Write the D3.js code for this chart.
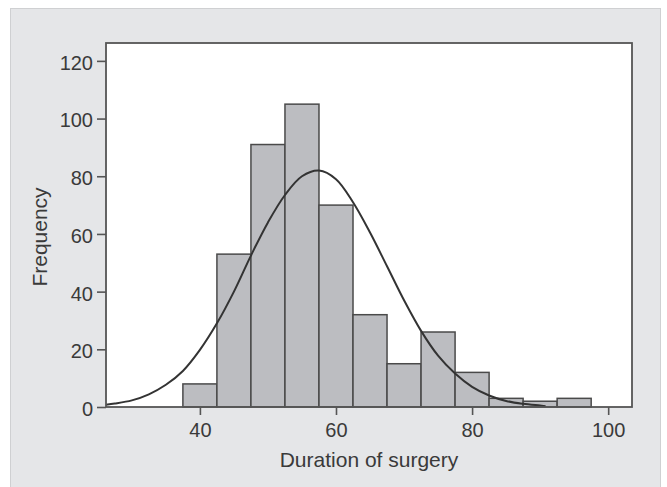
<!DOCTYPE html>
<html lang="en">
    <head>
        <meta charset="UTF-8" />
        <title>Duration of surgery</title>
        <script src="https://d3js.org/d3.v7.min.js"></script>
        <style>
            body {
                margin: 0;
                background: #ffffff;
            }
            .axis text {
                font-family: "Liberation Sans", Arial, sans-serif;
                font-size: 20px;
                fill: #3a3a3a;
            }
            .axis line {
                stroke: #555;
                stroke-width: 1.6px;
            }
            .axis-label {
                font-family: "Liberation Sans", Arial, sans-serif;
                font-size: 21px;
                fill: #3a3a3a;
            }
        </style>
    </head>
    <body>
        <svg id="chart" width="667" height="487"></svg>
        <script>
            // histogram bins (lower edge of each bin, width 5)
            const binStarts = [37.5, 42.5, 47.5, 52.5, 57.5, 62.5, 67.5, 72.5, 77.5, 82.5, 87.5, 92.5];
            const binWidth = 5;
            const counts = [8, 53, 91, 105, 70, 32, 15, 26, 12, 3, 2, 3];

            // fitted normal curve
            const curveX = [26.2, 27.5, 30, 32.5, 35, 37.5, 40, 42.5, 45, 47.5, 50, 52.5, 55, 57.5, 60, 62.5, 65, 67.5, 70, 72.5, 75, 77.5, 80, 82.5, 85, 87.5, 90, 90.8];
            const curveY = [0.8, 1.2, 2.3, 4.4, 7.7, 12.5, 19.8, 29, 40, 52.5, 64, 73.5, 80, 82, 79, 71, 60.5, 48.8, 37, 26.4, 17.8, 11.6, 7, 4, 2.1, 1.1, 0.5, 0.3];

            const xTicks = [40, 60, 80, 100];
            const yTicks = [0, 20, 40, 60, 80, 100, 120];

            const svg = d3.select("#chart");

            // grey outer panel
            svg.append("rect")
                .attr("x", 10.5)
                .attr("y", 8.5)
                .attr("width", 650)
                .attr("height", 480)
                .attr("fill", "#e5e6e8")
                .attr("stroke", "#cfd0d2");

            const plotL = 106, plotR = 632, plotT = 43, plotB = 407;

            const x = d3.scaleLinear().domain([26.2, 103.5]).range([plotL, plotR]);
            const y = d3.scaleLinear().domain([0, 126.2]).range([plotB, plotT]);

            // white plot area
            svg.append("rect")
                .attr("x", plotL)
                .attr("y", plotT)
                .attr("width", plotR - plotL)
                .attr("height", plotB - plotT)
                .attr("fill", "#ffffff");

            // bars
            svg.append("g")
                .selectAll("rect")
                .data(counts)
                .enter()
                .append("rect")
                .attr("x", (d, i) => x(binStarts[i]))
                .attr("y", (d) => y(d))
                .attr("width", (d, i) => x(binStarts[i] + binWidth) - x(binStarts[i]))
                .attr("height", (d) => y(0) - y(d))
                .attr("fill", "#bcbdc1")
                .attr("stroke", "#4a4a4a")
                .attr("stroke-width", 1.5);

            // normal curve
            const pts = curveX.map((v, i) => [v, curveY[i]]);
            svg.append("path")
                .datum(pts)
                .attr("fill", "none")
                .attr("stroke", "#333")
                .attr("stroke-width", 2)
                .attr(
                    "d",
                    d3
                        .line()
                        .x((d) => x(d[0]))
                        .y((d) => y(d[1]))
                        .curve(d3.curveCatmullRom)
                );

            // frame
            svg.append("rect")
                .attr("x", plotL)
                .attr("y", plotT)
                .attr("width", plotR - plotL)
                .attr("height", plotB - plotT)
                .attr("fill", "none")
                .attr("stroke", "#555")
                .attr("stroke-width", 1.8);

            // axes
            const xAxis = svg
                .append("g")
                .attr("class", "axis")
                .attr("transform", `translate(0,${plotB})`)
                .call(d3.axisBottom(x).tickValues(xTicks).tickSize(8).tickPadding(8));
            xAxis.select(".domain").remove();

            const yAxis = svg
                .append("g")
                .attr("class", "axis")
                .attr("transform", `translate(${plotL},0)`)
                .call(d3.axisLeft(y).tickValues(yTicks).tickSize(9).tickPadding(4));
            yAxis.select(".domain").remove();
            yAxis.selectAll("text").attr("dy", "0.42em");

            // axis titles
            svg.append("text")
                .attr("class", "axis-label")
                .attr("x", (plotL + plotR) / 2)
                .attr("y", 467)
                .attr("text-anchor", "middle")
                .text("Duration of surgery");

            svg.append("text")
                .attr("class", "axis-label")
                .attr("transform", "translate(47,237) rotate(-90)")
                .attr("text-anchor", "middle")
                .text("Frequency");
        </script>
    </body>
</html>
